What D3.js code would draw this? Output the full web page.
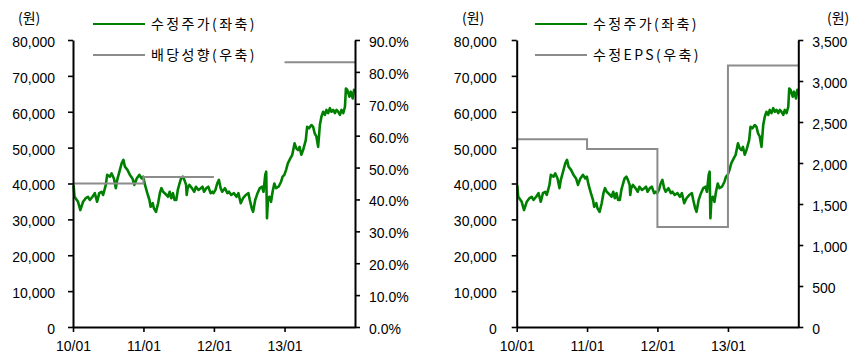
<!DOCTYPE html>
<html><head><meta charset="utf-8">
<script src="https://cdn.jsdelivr.net/npm/d3@7"></script>
<style>
body{margin:0;background:#fff}
svg text{font-family:"Liberation Sans",Arial,sans-serif;font-size:14px;fill:#000}
svg text.kr{font-family:"Noto Sans CJK KR","Noto Sans",sans-serif;letter-spacing:2.4px}
</style></head><body>
<svg id="c" width="864" height="354"></svg>
<script>
// ---- data ----
const priceDates = [
"2010-01-04","2010-01-09","2010-01-27","2010-02-08","2010-02-22","2010-03-08","2010-03-20","2010-03-29","2010-04-12","2010-04-24",
"2010-05-06","2010-05-17","2010-05-29","2010-06-06","2010-06-20","2010-06-27","2010-07-11","2010-07-20","2010-08-01","2010-08-11",
"2010-08-18","2010-09-01","2010-09-10","2010-09-19","2010-09-27","2010-10-10","2010-10-23","2010-11-05","2010-11-15","2010-11-27",
"2010-12-11","2010-12-23","2010-12-31",
"2011-01-09","2011-01-21","2011-02-01","2011-02-07","2011-02-18","2011-02-24","2011-03-07","2011-03-18","2011-03-27","2011-04-04",
"2011-04-13","2011-04-21","2011-04-30","2011-05-08","2011-05-17","2011-05-25","2011-06-03","2011-06-11","2011-06-20","2011-06-28",
"2011-07-07","2011-07-15","2011-07-24","2011-08-01","2011-08-10","2011-08-13","2011-08-18","2011-08-27","2011-09-09","2011-09-21",
"2011-09-30","2011-10-13","2011-10-25","2011-11-03","2011-11-11","2011-11-23","2011-12-03","2011-12-15","2011-12-24","2011-12-30",
"2012-01-09","2012-01-18","2012-01-27","2012-02-05","2012-02-13","2012-02-27","2012-03-11","2012-03-19","2012-03-31","2012-04-14",
"2012-04-27","2012-05-07","2012-05-19","2012-05-31","2012-06-14","2012-06-28","2012-07-05","2012-07-15","2012-07-22","2012-08-02",
"2012-08-14","2012-08-26","2012-09-06","2012-09-14","2012-09-23","2012-09-28","2012-10-02","2012-10-07","2012-10-14","2012-10-23",
"2012-10-31","2012-11-09","2012-11-18","2012-12-01","2012-12-14","2012-12-22","2012-12-31",
"2013-01-09","2013-01-18","2013-01-31","2013-02-10","2013-02-22","2013-03-03","2013-03-12","2013-03-20","2013-03-29","2013-04-07",
"2013-04-21","2013-04-28","2013-05-08","2013-05-20","2013-05-29","2013-06-06","2013-06-15","2013-06-24","2013-07-03","2013-07-11",
"2013-07-20","2013-07-29","2013-08-06","2013-08-15","2013-08-24","2013-09-01","2013-09-10","2013-09-19","2013-09-27","2013-10-06",
"2013-10-15","2013-10-23","2013-11-01","2013-11-10","2013-11-15","2013-11-22","2013-12-03","2013-12-10","2013-12-20","2013-12-27",
"2013-12-31"];
const priceValues = [
39500,36300,34900,32600,34900,35900,36300,35400,36300,37300,
34900,37300,37700,36800,39600,42400,41900,42800,41400,38700,
41000,43800,45600,46600,44700,43800,42400,41400,39600,41400,
42400,41400,41900,
39600,37300,35400,33500,34500,33100,32100,34500,37300,38700,
37700,37300,36800,36300,37700,35900,37300,35400,35400,38200,
40000,41400,41900,41000,39600,36800,38700,39600,38700,37700,
39100,38200,38700,39100,37700,38700,39100,37300,37700,37300,
38200,40000,41000,38700,37700,38700,37300,37700,36800,37300,
36300,37300,34500,35900,36800,37300,35400,33100,32100,35400,
37300,38700,39100,37700,42400,43300,30300,35400,36300,34900,
37700,40000,38700,39100,40500,41900,42400,
43800,45600,47000,48000,51200,49800,49300,50200,48000,49300,
52100,55800,55400,56300,55800,54000,53100,50200,56300,58600,
60000,59100,60500,59600,61000,60000,60500,59600,60500,60000,
59100,60500,59600,61400,66500,66100,64200,65600,63700,66100,
65600];
const years = ["2010-01-01","2011-01-01","2012-01-01","2013-01-01","2014-01-01"];
const xTickLabels = ["10/01","11/01","12/01","13/01"];
const payoutRatio = [45, 47, null, 83];     // %
const epsValues = [2290, 2170, 1220, 3190]; // 원
const leftTicks = [0,10000,20000,30000,40000,50000,60000,70000,80000];
const payoutTicks = [0,10,20,30,40,50,60,70,80,90];
const epsTicks = [0,500,1000,1500,2000,2500,3000,3500];
const legendPrice = "수정주가(좌축)";
const legendPayout = "배당성향(우축)";
const legendEps = "수정EPS(우축)";
const unitLabel = "(원)";

// ---- drawing ----
const svg = d3.select("#c");
const parse = d3.timeParse("%Y-%m-%d");
const price = priceDates.map((d,i)=>({date:parse(d), v:priceValues[i]}));
const yearDates = years.map(parse);
const GREEN = "#008000", GRAY = "#8c8c8c";
const TOP = 40, BOTTOM = 327;

function stepPoints(vals){
  const pts = [];
  vals.forEach((v,i)=>{
    if (v == null) { pts.push(null); return; }
    pts.push({date:yearDates[i], v}, {date:yearDates[i+1], v});
  });
  return pts;
}

function panel(o){
  const g = svg.append("g");
  const x = d3.scaleTime().domain([yearDates[0], yearDates[4]]).range([o.x0, o.x1]);
  const yL = d3.scaleLinear().domain([0,80000]).range([BOTTOM, TOP]);
  const yR = d3.scaleLinear().domain(o.rDomain).range([BOTTOM, TOP]);

  g.append("path").datum(price)
    .attr("fill","none").attr("stroke",GREEN).attr("stroke-width",2.6).attr("stroke-linejoin","round")
    .attr("d", d3.line().x(d=>x(d.date)).y(d=>yL(d.v)));
  const pts = stepPoints(o.stepVals);
  g.append("path").datum(pts)
    .attr("fill","none").attr("stroke",GRAY).attr("stroke-width",2)
    .attr("d", d3.line().defined(d=>d!=null).x(d=>x(d.date)).y(d=>yR(d.v)));

  function styleAxis(a){
    a.attr("font-family",null).attr("font-size",null);
    a.selectAll(".domain").attr("stroke","#000").attr("stroke-width",2);
    a.selectAll(".tick line").attr("stroke","#000").attr("stroke-width",1.6);
  }
  const aL = g.append("g").attr("transform",`translate(${o.x0},0)`)
    .call(d3.axisLeft(yL).tickValues(leftTicks).tickFormat(d3.format(",")).tickSize(5).tickSizeOuter(0).tickPadding(o.padL));
  styleAxis(aL); aL.selectAll("text").attr("y",2);
  const aR = g.append("g").attr("transform",`translate(${o.x1},0)`)
    .call(d3.axisRight(yR).tickValues(o.rTicks).tickFormat(o.rFormat).tickSize(5).tickSizeOuter(0).tickPadding(9));
  styleAxis(aR); aR.selectAll("text").attr("y",2);
  const aB = g.append("g").attr("transform",`translate(0,${BOTTOM})`)
    .call(d3.axisBottom(x).tickValues(yearDates.slice(0,4)).tickFormat((d,i)=>xTickLabels[i]).tickSize(5).tickSizeOuter(0).tickPadding(9));
  styleAxis(aB);

  g.append("text").attr("class","kr").style("letter-spacing","0px").attr("x",o.unitX).attr("y",23).text(unitLabel);
  if (o.unitRX) g.append("text").attr("class","kr").style("letter-spacing","0px").attr("x",o.unitRX).attr("y",23).text(unitLabel);

  const leg = [[legendPrice, GREEN, 24],[o.legend2, GRAY, 55]];
  leg.forEach(([t,c,yy])=>{
    g.append("line").attr("x1",o.legX).attr("x2",o.legX+52).attr("y1",yy).attr("y2",yy)
      .attr("stroke",c).attr("stroke-width",2);
    g.append("text").attr("class","kr").attr("x",o.legX+58).attr("y",yy+5).text(t);
  });
}

panel({x0:73, x1:355, rDomain:[0,90], rTicks:payoutTicks, rFormat:d=>d.toFixed(1)+"%",
  stepVals:payoutRatio, padL:13, unitX:18, legX:93, legend2:legendPayout});
panel({x0:516.7, x1:798.3, rDomain:[0,3500], rTicks:epsTicks, rFormat:d3.format(","),
  stepVals:epsValues, padL:15, unitX:462, unitRX:827, legX:535, legend2:legendEps});
</script>
</body></html>
